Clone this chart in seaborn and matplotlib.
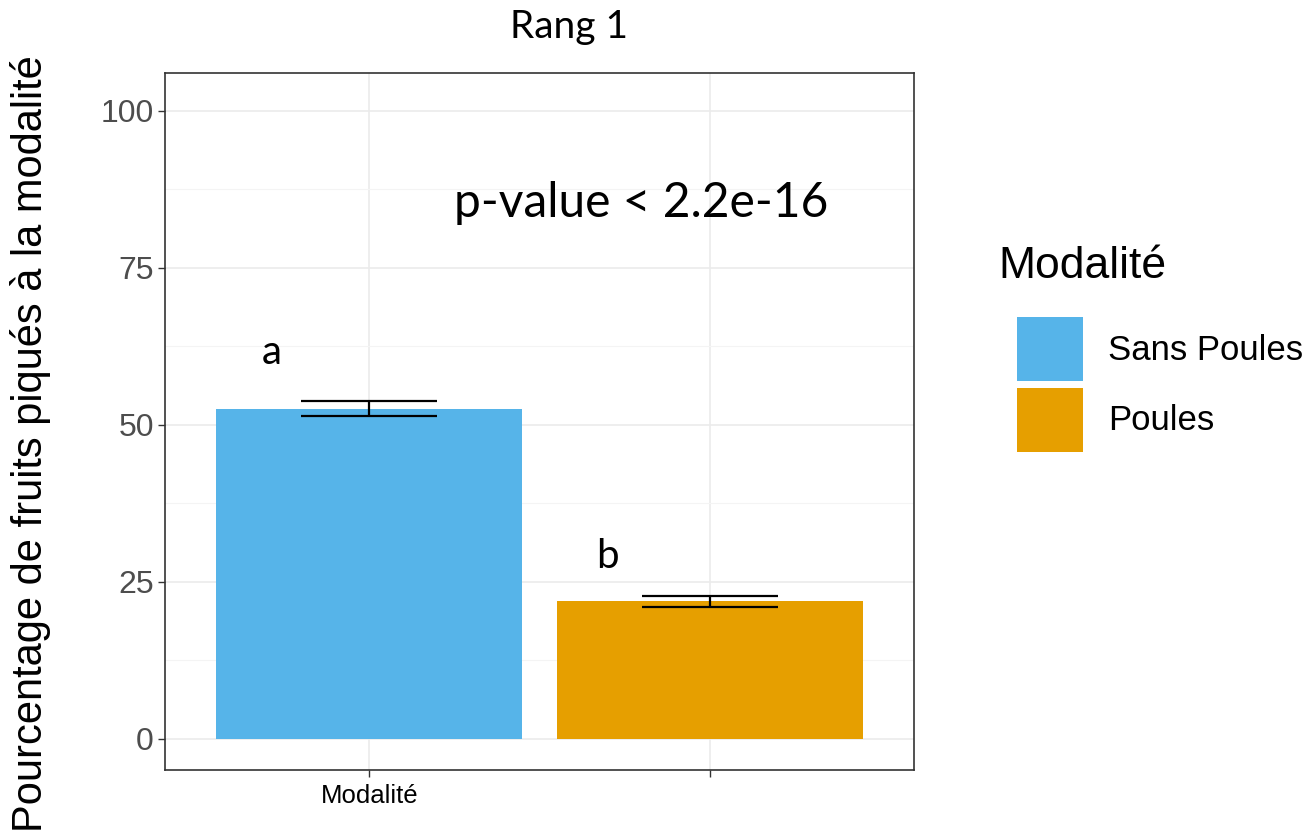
import matplotlib
matplotlib.use("Agg")
import matplotlib.pyplot as plt
from matplotlib.patches import Patch
import seaborn as sns
import pandas as pd

# Data
modalites = ["Sans Poules", "Poules"]
pourcentages = [52.6, 21.9]
erreurs = [1.2, 0.9]
lettres = ["a", "b"]
couleurs = ["#56B4E9", "#E69F00"]
x_labels = ["Modalité", ""]
y_ticks = [0, 25, 50, 75, 100]

df = pd.DataFrame({"Modalite": modalites, "pct": pourcentages, "se": erreurs})

sns.set_theme(style="white")
plt.rcParams["font.family"] = ["Liberation Sans", "DejaVu Sans"]
plt.rcParams["text.color"] = "black"
HUMAN = ["Lato", "DejaVu Sans"]

fig = plt.figure(figsize=(13.06, 8.36), dpi=100)
ax = fig.add_axes([165 / 1306, 1 - 770 / 836, (914 - 165) / 1306, (770 - 73) / 836])

sns.barplot(data=df, x="Modalite", y="pct", hue="Modalite",
            palette=dict(zip(modalites, couleurs)), width=0.9,
            errorbar=None, legend=False, ax=ax, zorder=3,
            saturation=1, linewidth=0)

for i, (m, e) in enumerate(zip(pourcentages, erreurs)):
    ax.vlines(i, m - e, m + e, color="black", lw=1.6, zorder=4)
    ax.hlines([m - e, m + e], i - 0.2, i + 0.2, color="black", lw=1.6, zorder=4)

# significance letters and test result
ax.text(-0.285, 61.5, lettres[0], ha="center", va="center", fontsize=29,
        family=HUMAN, color="black")
ax.text(0.70, 29.1, lettres[1], ha="center", va="center", fontsize=29,
        family=HUMAN, color="black")
ax.text(0.80, 85.4, "p-value < 2.2e-16", ha="center", va="center", fontsize=34.5,
        family=HUMAN, color="black")

ax.set_xlim(-0.6, 1.6)
ax.set_ylim(-4.95, 106.05)
ax.set_yticks(y_ticks)
ax.set_yticks([12.5, 37.5, 62.5, 87.5], minor=True)
ax.set_xticks([0, 1])
ax.set_xticklabels(x_labels, fontsize=18.5, color="black")
ax.tick_params(axis="y", labelsize=23, labelcolor="#4D4D4D", length=5,
               color="#333333", width=1, left=True, which="major", pad=3)
ax.tick_params(axis="y", which="minor", left=False)
ax.tick_params(axis="x", length=5, color="#333333", width=1, bottom=True, pad=5)

ax.grid(True, which="major", color="#EBEBEB", lw=1.2, zorder=0)
ax.grid(True, which="minor", axis="y", color="#F4F4F4", lw=0.8, zorder=0)
ax.set_axisbelow(True)
for s in ax.spines.values():
    s.set_color("#333333")
    s.set_linewidth(1.2)

ax.set_xlabel("")
ax.set_ylabel("Pourcentage de fruits piqués à la modalité", fontsize=30,
              color="black")
ax.yaxis.set_label_coords(-0.152, 0.468)

fig.text(569 / 1306, 1 - 27 / 836, "Rang 1", ha="center", va="center",
         fontsize=28, family=HUMAN, color="black")

# legend
fig.text(998 / 1306, 1 - 266 / 836, "Modalité", ha="left", va="center",
         fontsize=32, color="black")
handles = [Patch(facecolor=c, edgecolor="none", label=m) for m, c in zip(modalites, couleurs)]
leg = fig.legend(handles=handles, loc="upper left",
                 bbox_to_anchor=(1017 / 1306, 1 - 317 / 836), frameon=False,
                 borderpad=0, borderaxespad=0,
                 fontsize=25, handlelength=1.9, handleheight=2.45,
                 handletextpad=0.72, labelspacing=0.2, labelcolor="black")

fig.savefig("out.png", dpi=100)
